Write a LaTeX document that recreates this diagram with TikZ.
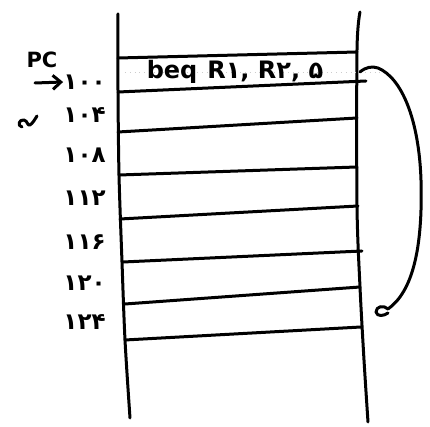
\documentclass[tikz,border=0pt]{standalone}
\usepackage{fontspec}
\setmainfont{DejaVu Sans}
\usetikzlibrary{arrows.meta}
\tikzset{pen/.style={line width=1.5pt,line cap=round,line join=round},addr/.style={anchor=east,inner sep=0pt,font=\fontsize{11.5}{13}\selectfont\bfseries},ptr/.style={pen,-{Straight Barb[length=4pt,width=7pt]}}}

\begin{document}
\begin{tikzpicture}[x=0.5pt,y=-0.5pt]
\useasboundingbox (0,0) rectangle (430,427);
% memory column
\draw[pen] plot[smooth] coordinates {(118,14) (118,90) (119,175) (122,262) (125,340) (130,418)};
\draw[pen] plot[smooth] coordinates {(360,12) (357,50) (357,206) (360,287) (364,360) (368,422)};
\foreach \xl/\yl/\xr/\yr in {118/58/357/52,118/92/366/81,118/132/357/118,119/175/357/167,120/219/358/206,123/262/362/251,125/304/360/287,125/340/361/327}
  \draw[pen] (\xl,\yl) -- (\xr,\yr);
\draw[gray!40,dotted] (125,72) -- (385,72);
\node[font=\fontsize{12}{14}\selectfont\bfseries] (instr) at (235,72) {beq\hspace{5pt}R۱, R۲, ۵};
% addresses
\node[font=\fontsize{10.5}{12}\selectfont\bfseries] (pc) at (42,60) {PC};
\node[addr] (a100) at (106,82) {۱۰۰};
\node[addr] (a104) at (106,115) {۱۰۴};
\node[addr] (a108) at (106,155) {۱۰۸};
\node[addr] (a112) at (106,198) {۱۱۲};
\node[addr] (a116) at (106,242) {۱۱۶};
\node[addr] (a120) at (106,283) {۱۲۰};
\node[addr] (a124) at (106,322) {۱۲۴};
\coordinate (pctail) at (35,83);
\draw[ptr] (pctail) -- (a100.west);
\draw[pen] (22,127) .. controls (17,126) and (19,119) .. (24,120) .. controls (28,121) and (27,126) .. (30,125) .. controls (33,123) and (35,119) .. (37,116);
% branch target
\coordinate (brsrc) at (360,72);
\coordinate (brdst) at (388,309);
\draw[pen] (brsrc) .. controls (366,67) and (372,66) .. (378,68) .. controls (402,78) and (419,120) .. (421,180) .. controls (423,250) and (412,292) .. (brdst) .. controls (384,305) and (376,306) .. (376,312) .. controls (377,317) and (384,316) .. (388,313);
\end{tikzpicture}
\end{document}
